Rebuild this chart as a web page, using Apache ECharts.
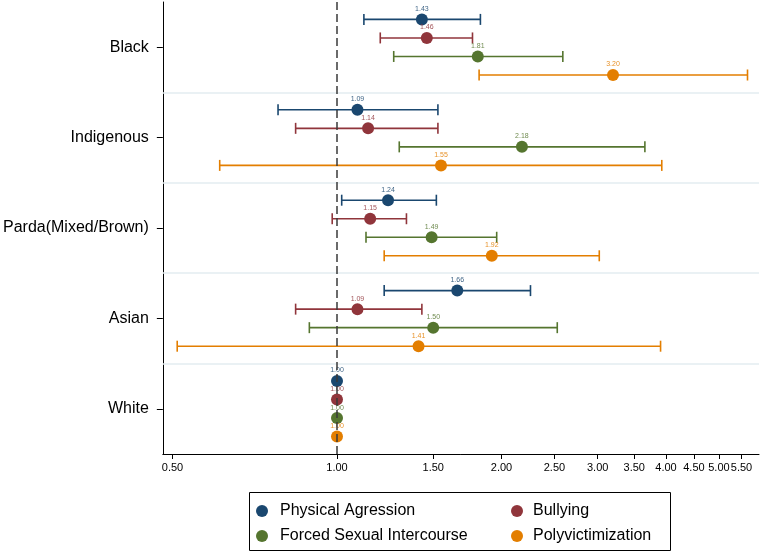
<!DOCTYPE html>
<html lang="en">
<head>
	<meta charset="UTF-8">
	<title></title>
	<style>html, body { margin: 0; padding: 0; background: #fff; }</style>
</head>
<body>
	<div id="main" style="width: 762px;height: 554px"></div>
	<script src="https://cdn.jsdelivr.net/npm/echarts@6/dist/echarts.min.js"></script>
	<script>
		// groups top to bottom
		var groups = ['Black', 'Indigenous', 'Parda(Mixed/Brown)', 'Asian', 'White'];
		var names = ['Physical Agression', 'Bullying', 'Forced Sexual Intercourse', 'Polyvictimization'];
		var colors = ['#1a476f', '#90353b', '#55752f', '#e37e00'];

		// odds ratio and 95% CI, one value per group
		var physical     = [1.43, 1.09, 1.24, 1.66, 1.00];
		var physicalLow  = [1.12, 0.78, 1.02, 1.22, 1.00];
		var physicalHigh = [1.83, 1.53, 1.52, 2.26, 1.00];

		var bullying     = [1.46, 1.14, 1.15, 1.09, 1.00];
		var bullyingLow  = [1.20, 0.84, 0.98, 0.84, 1.00];
		var bullyingHigh = [1.77, 1.53, 1.34, 1.43, 1.00];

		var forced     = [1.81, 2.18, 1.49, 1.50, 1.00];
		var forcedLow  = [1.27, 1.30, 1.13, 0.89, 1.00];
		var forcedHigh = [2.59, 3.66, 1.96, 2.53, 1.00];

		var poly     = [3.20, 1.55, 1.92, 1.41, 1.00];
		var polyLow  = [1.82, 0.61, 1.22, 0.51, 1.00];
		var polyHigh = [5.64, 3.93, 3.02, 3.91, 1.00];

		var xTicks = [0.5, 1, 1.5, 2, 2.5, 3, 3.5, 4, 4.5, 5, 5.5];

		var est = [physical, bullying, forced, poly];
		var low = [physicalLow, bullyingLow, forcedLow, polyLow];
		var high = [physicalHigh, bullyingHigh, forcedHigh, polyHigh];

		// vertical offset of each series inside a group band
		var rowStep = 0.205;
		function rowY(g, s) {
			return g + 0.5 + (s - 1.5) * rowStep;
		}

		function renderCI(params, api) {
			var y = api.value(2);
			var a = api.coord([api.value(0), y]);
			var b = api.coord([api.value(1), y]);
			var h = 5.5;
			var style = { stroke: api.visual('color'), lineWidth: 1.6 };
			return {
				type: 'group',
				children: [
					{ type: 'line', shape: { x1: a[0], y1: a[1], x2: b[0], y2: b[1] }, style: style },
					{ type: 'line', shape: { x1: a[0], y1: a[1] - h, x2: a[0], y2: a[1] + h }, style: style },
					{ type: 'line', shape: { x1: b[0], y1: b[1] - h, x2: b[0], y2: b[1] + h }, style: style }
				]
			};
		}

		var series = [];

		// light separators between groups
		series.push({
			type: 'scatter',
			data: [],
			silent: true,
			z: 1,
			markLine: {
				silent: true,
				symbol: 'none',
				label: { show: false },
				animation: false,
				data: [
					{ yAxis: 1, lineStyle: { color: '#e3edf0', width: 1.5, type: 'solid' } },
					{ yAxis: 2, lineStyle: { color: '#e3edf0', width: 1.5, type: 'solid' } },
					{ yAxis: 3, lineStyle: { color: '#e3edf0', width: 1.5, type: 'solid' } },
					{ yAxis: 4, lineStyle: { color: '#e3edf0', width: 1.5, type: 'solid' } }
				]
			}
		});

		for (var s = 0; s < 4; s++) {
			var ci = [], pts = [];
			for (var g = 0; g < groups.length; g++) {
				ci.push([low[s][g], high[s][g], rowY(g, s)]);
				pts.push([est[s][g], rowY(g, s)]);
			}
			series.push({
				name: names[s] + ' CI',
				type: 'custom',
				renderItem: renderCI,
				encode: { x: [0, 1], y: 2 },
				itemStyle: { color: colors[s] },
				data: ci,
				z: 2
			});
			series.push({
				name: names[s],
				type: 'scatter',
				symbol: 'circle',
				symbolSize: 12,
				itemStyle: { color: colors[s], opacity: 1 },
				label: {
					show: true,
					position: 'top',
					distance: 1,
					fontSize: 7,
					fontFamily: 'Liberation Sans',
					color: colors[s],
					opacity: 0.85,
					formatter: function (p) { return p.value[0].toFixed(2); }
				},
				data: pts,
				z: 4
			});
		}

		// reference line at 1
		series.push({
			type: 'scatter',
			data: [],
			silent: true,
			z: 3,
			markLine: {
				silent: true,
				symbol: 'none',
				label: { show: false },
				animation: false,
				data: [{ xAxis: 1, lineStyle: { color: '#3a3a3a', width: 1.5, type: [8, 4] } }]
			}
		});

		function legendItem(i, left, top, pad) {
			return {
				data: [names[i]],
				left: left,
				top: top,
				padding: 0,
				icon: 'circle',
				itemWidth: 12,
				itemHeight: 12,
				selectedMode: false,
				textStyle: { fontSize: 16, fontFamily: 'Liberation Sans', color: '#000', padding: [0, 0, 0, pad] }
			};
		}

		var myChart = echarts.init(document.getElementById('main'));
		var option = {
			animation: false,
			textStyle: { fontFamily: 'Liberation Sans' },
			grid: { left: 160, right: 3, top: 2, bottom: 100 },
			legend: [
				legendItem(0, 256, 503, 7),
				legendItem(1, 511, 503, 5),
				legendItem(2, 256, 528, 7),
				legendItem(3, 511, 528, 5)
			],
			graphic: [{
				type: 'rect',
				shape: { x: 249.5, y: 492.5, width: 421, height: 58 },
				style: { fill: 'none', stroke: '#000', lineWidth: 1 },
				silent: true
			}],
			xAxis: {
				type: 'log',
				logBase: 10,
				min: 0.48,
				max: 5.92,
				axisLine: { onZero: false, lineStyle: { color: '#000', width: 1 } },
				axisTick: { customValues: xTicks, length: 5, lineStyle: { color: '#000' } },
				minorTick: { show: false },
				splitLine: { show: false },
				axisLabel: {
					customValues: xTicks,
					margin: 8,
					fontSize: 11,
					color: '#000',
					formatter: function (v) { return Number(v).toFixed(2); }
				}
			},
			yAxis: {
				type: 'value',
				inverse: true,
				min: 0,
				max: 5,
				axisLine: { show: true, onZero: false, lineStyle: { color: '#000', width: 1 } },
				axisTick: { show: true, customValues: [0.5, 1.5, 2.5, 3.5, 4.5], length: 6, lineStyle: { color: '#000' } },
				splitLine: { show: false },
				axisLabel: {
					customValues: [0.5, 1.5, 2.5, 3.5, 4.5],
					margin: 14,
					fontSize: 16,
					color: '#000',
					formatter: function (v) { return groups[Math.floor(v)]; }
				}
			},
			series: series
		};

		myChart.setOption(option);
	</script>
</body>
</html>
